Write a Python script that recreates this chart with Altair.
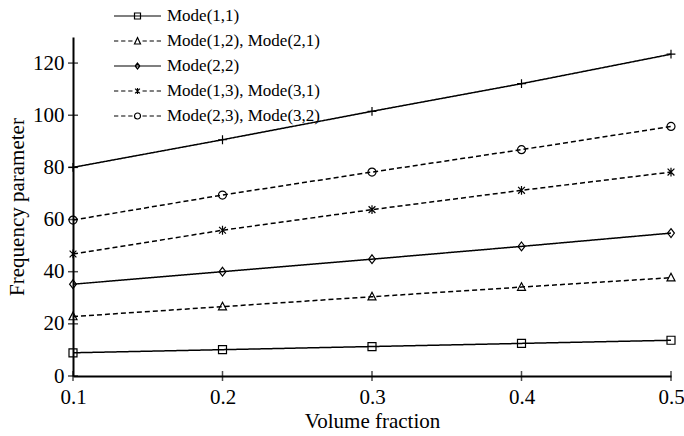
import altair as alt
import pandas as pd

# Volume fraction on the x axis
volume_fraction = [0.1, 0.2, 0.3, 0.4, 0.5]

# Series labels (the last series has no legend entry)
series_names = [
    "Mode(1,1)",
    "Mode(1,2), Mode(2,1)",
    "Mode(2,2)",
    "Mode(1,3), Mode(3,1)",
    "Mode(2,3), Mode(3,2)",
    "Mode(3,3)",
]

# Frequency parameter of each mode
mode_11 = [8.9, 10.1, 11.3, 12.5, 13.7]
mode_12 = [22.8, 26.6, 30.4, 34.1, 37.7]
mode_22 = [35.2, 40.0, 44.8, 49.7, 54.8]
mode_13 = [46.8, 55.9, 63.8, 71.2, 78.2]
mode_23 = [59.8, 69.4, 78.2, 86.8, 95.7]
mode_33 = [80.0, 90.6, 101.5, 112.1, 123.4]

y_ticks = [0, 20, 40, 60, 80, 100, 120]
x_ticks = [0.1, 0.2, 0.3, 0.4, 0.5]

FONT = "Liberation Serif"

rows = []
for name, vals in zip(series_names, [mode_11, mode_12, mode_22, mode_13, mode_23, mode_33]):
    for xv, yv in zip(volume_fraction, vals):
        rows.append({"series": name, "fraction": xv, "value": yv})
df = pd.DataFrame(rows)

# marker outlines in unit coordinates (size -> width in px)
square = "M-1,-1H1V1H-1Z"
triangle = "M0,-1.1L1,0.8L-1,0.8Z"
diamond = "M0,-1.1L0.85,0L0,1.1L-0.85,0Z"
asterisk = "M-0.85,-0.85L0.85,0.85M-0.85,0.85L0.85,-0.85M0,-1.1V1.1"
circle = "M-1,0A1,1,0,1,1,1,0A1,1,0,1,1,-1,0Z"
plus = "M-1.1,0H1.1M0,-1.1V1.1"
marker_paths = [square, triangle, diamond, asterisk, circle, plus]
dashes = [[1, 0], [5, 3], [1, 0], [5, 3], [5, 3], [1, 0]]

# legend glyphs: a short line (solid or dashed) with a small marker in the middle
LEG_SIZE = 324
R = (LEG_SIZE ** 0.5) / 2.0
LINE_L, LINE_R, MID, HALF = -R, 38.0, 14.5, 3.0


def u(v):
    return f"{v / R:.3f}"


def solid_line():
    return f"M{u(LINE_L)},0H{u(LINE_R)}"


def dashed_line():
    segs = []
    left_start, left_end = LINE_L, MID - 5.0
    right_start, right_end = MID + 5.0, LINE_R
    for a, b in [(left_start, left_end), (right_start, right_end)]:
        span = b - a
        gap = 2.8
        dash = (span - 2 * gap) / 3.0
        p = a
        for _ in range(3):
            segs.append(f"M{u(p)},0H{u(p + dash)}")
            p += dash + gap
    return "".join(segs)


def leg_marker(kind):
    c, h = MID, HALF
    if kind == "square":
        return f"M{u(c - h)},{u(-h)}H{u(c + h)}V{u(h)}H{u(c - h)}Z"
    if kind == "triangle":
        return f"M{u(c)},{u(-h - 0.4)}L{u(c + h)},{u(h)}L{u(c - h)},{u(h)}Z"
    if kind == "diamond":
        return f"M{u(c)},{u(-h)}L{u(c + h * 0.8)},0L{u(c)},{u(h)}L{u(c - h * 0.8)},0Z"
    if kind == "asterisk":
        k = h * 0.8
        return (f"M{u(c - k)},{u(-k)}L{u(c + k)},{u(k)}M{u(c - k)},{u(k)}L{u(c + k)},{u(-k)}"
                f"M{u(c)},{u(-h)}V{u(h)}")
    if kind == "circle":
        return (f"M{u(c - h)},0A{u(h)},{u(h)},0,1,1,{u(c + h)},0"
                f"A{u(h)},{u(h)},0,1,1,{u(c - h)},0Z")
    return f"M{u(c - h)},0H{u(c + h)}M{u(c)},{u(-h)}V{u(h)}"


legend_paths = [
    solid_line() + leg_marker("square"),
    dashed_line() + leg_marker("triangle"),
    solid_line() + leg_marker("diamond"),
    dashed_line() + leg_marker("asterisk"),
    dashed_line() + leg_marker("circle"),
    solid_line() + leg_marker("plus"),
]

x_enc = alt.X(
    "fraction:Q",
    scale=alt.Scale(domain=[0.1, 0.5], nice=False, zero=False),
    axis=alt.Axis(
        values=x_ticks, format=".1f", title="Volume fraction",
        grid=False, ticks=False, tickSize=0, domainColor="black", domainWidth=2,
        labelFont=FONT, labelFontSize=21, labelColor="black", labelPadding=10,
        titleFont=FONT, titleFontSize=21, titleFontWeight="normal", titleColor="black",
        titlePadding=3, labelFlush=False,
    ),
)
y_enc = alt.Y(
    "value:Q",
    scale=alt.Scale(domain=[0, 130], nice=False),
    axis=alt.Axis(
        values=y_ticks, title="Frequency parameter",
        grid=False, ticks=False, tickSize=0, domainColor="black", domainWidth=2,
        labelFont=FONT, labelFontSize=21, labelColor="black", labelPadding=9,
        titleFont=FONT, titleFontSize=21, titleFontWeight="normal", titleColor="black",
        titlePadding=5, labelFlush=False,
    ),
)

lines = alt.Chart(df).mark_line(color="black", strokeWidth=1.5).encode(
    x=x_enc,
    y=y_enc,
    detail="series:N",
    strokeDash=alt.StrokeDash(
        "series:N", scale=alt.Scale(domain=series_names, range=dashes), legend=None
    ),
)

points = alt.Chart(df).mark_point(
    filled=False, color="black", strokeWidth=1.2, size=64, opacity=1
).encode(
    x="fraction:Q",
    y="value:Q",
    shape=alt.Shape(
        "series:N", scale=alt.Scale(domain=series_names, range=marker_paths), legend=None
    ),
)

legend_layer = alt.Chart(df).mark_point(
    filled=False, color="black", opacity=0
).encode(
    x="fraction:Q",
    y="value:Q",
    shape=alt.Shape(
        "series:N",
        scale=alt.Scale(domain=series_names, range=legend_paths),
        legend=alt.Legend(
            values=series_names[:5], title=None, orient="none",
            legendX=40, legendY=-31, padding=0,
            symbolSize=LEG_SIZE, symbolStrokeWidth=1.2, symbolStrokeColor="black",
            symbolFillColor="transparent", symbolOpacity=1,
            labelFont=FONT, labelFontSize=17, labelColor="black", labelLimit=400,
            labelOffset=34, rowPadding=7,
        ),
    ),
)

y_tick_marks = alt.Chart(pd.DataFrame({"value": y_ticks})).mark_tick(
    orient="horizontal", size=10, thickness=1.5, color="black"
).encode(y="value:Q", x=alt.datum(0.1))

x_tick_marks = alt.Chart(pd.DataFrame({"fraction": x_ticks})).mark_tick(
    orient="vertical", size=10, thickness=1.5, color="black"
).encode(x="fraction:Q", y=alt.datum(0))

chart = alt.layer(
    lines, points, legend_layer, y_tick_marks, x_tick_marks
).resolve_scale(
    shape="independent"
).properties(
    width=598, height=339,
    autosize=alt.AutoSizeParams(type="none"),
    padding={"left": 73, "top": 37, "right": 13, "bottom": 60},
    background="white",
).configure_view(stroke=None)

chart.save("out.html", embed_options={"renderer": "svg", "actions": False})
